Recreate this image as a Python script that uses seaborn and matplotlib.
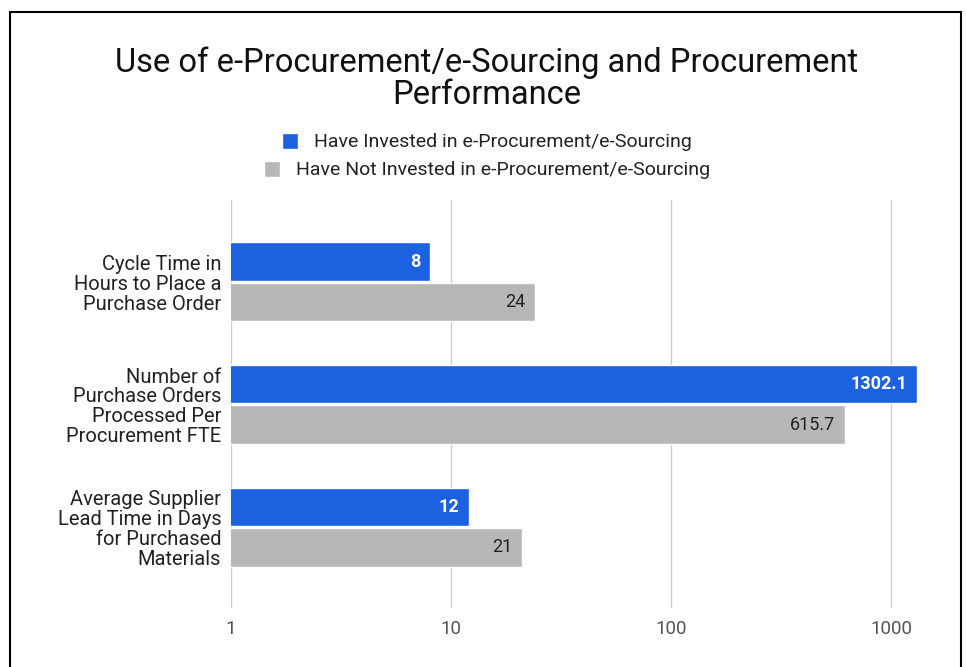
import pandas as pd
import matplotlib.pyplot as plt
import seaborn as sns
from matplotlib.patches import Rectangle

categories = [
    "Cycle Time in\nHours to Place a\nPurchase Order",
    "Number of\nPurchase Orders\nProcessed Per\nProcurement FTE",
    "Average Supplier\nLead Time in Days\nfor Purchased\nMaterials",
]
series = [
    "Have Invested in e-Procurement/e-Sourcing",
    "Have Not Invested in e-Procurement/e-Sourcing",
]
invested = [8, 1302.1, 12]
not_invested = [24, 615.7, 21]
tick_values = [1, 10, 100, 1000]
tick_labels = ["1", "10", "100", "1000"]

df = pd.DataFrame({
    "category": categories * 2,
    "group": [series[0]] * 3 + [series[1]] * 3,
    "value": invested + not_invested,
})

sns.set_theme(style="white")
plt.rcParams["font.family"] = ["Roboto", "DejaVu Sans"]

colors = ["#1c62e0", "#b7b7b7"]

fig = plt.figure(figsize=(9.66, 6.67), dpi=100)
ax = fig.add_axes([0.239, 0.0885, 0.710, 0.612])

sns.barplot(data=df, y="category", x="value", hue="group", hue_order=series,
            palette=colors, orient="h", width=0.66, gap=0.05,
            saturation=1, ax=ax, legend=True)

ax.set_xscale("log")
ax.set_xlim(1, max(invested + not_invested))
ax.set_ylim(2.66, -0.67)
ax.set_xticks(tick_values)
ax.set_xticklabels(tick_labels)
ax.minorticks_off()
ax.xaxis.grid(True, color="#cccccc", linewidth=1)
ax.set_axisbelow(True)
ax.tick_params(axis="x", length=0, pad=9, labelsize=13.5, labelcolor="#555555")
ax.tick_params(axis="y", length=0, pad=7, labelsize=14.5, labelcolor="#222222")
for lbl in ax.get_yticklabels():
    lbl.set_linespacing(1.05)
ax.set_xlabel("")
ax.set_ylabel("")
for s in ax.spines.values():
    s.set_visible(False)

# value labels inside the bar ends
for i, cont in enumerate(ax.containers):
    for bar, v in zip(cont, [invested, not_invested][i]):
        y = bar.get_y() + bar.get_height() / 2
        ax.annotate(f"{v:g}", xy=(bar.get_width(), y), xytext=(-7, 0),
                    textcoords="offset points", ha="right", va="center",
                    fontsize=13,
                    color="white" if i == 0 else "#222222",
                    fontweight="bold" if i == 0 else "normal")

# centered legend entries, one per line
handles, labels = ax.get_legend_handles_labels()
ax.get_legend().remove()
for k, yy in enumerate([0.787, 0.745]):
    leg = fig.legend([handles[k]], [labels[k]], loc="center",
                     bbox_to_anchor=(0.504, yy), frameon=False, fontsize=14,
                     handlelength=0.85, handleheight=0.9, handletextpad=0.8,
                     borderaxespad=0, borderpad=0)
    leg.get_texts()[0].set_color("#222222")

fig.text(0.504, 0.882, "Use of e-Procurement/e-Sourcing and Procurement\nPerformance",
         ha="center", va="center", fontsize=23.5, linespacing=1.0, color="#111111")

fig.patches.append(Rectangle((0.0105, -0.05), 0.984, 1.032, transform=fig.transFigure,
                             fill=False, edgecolor="black", linewidth=1.5))

fig.savefig("out.png", dpi=100)
